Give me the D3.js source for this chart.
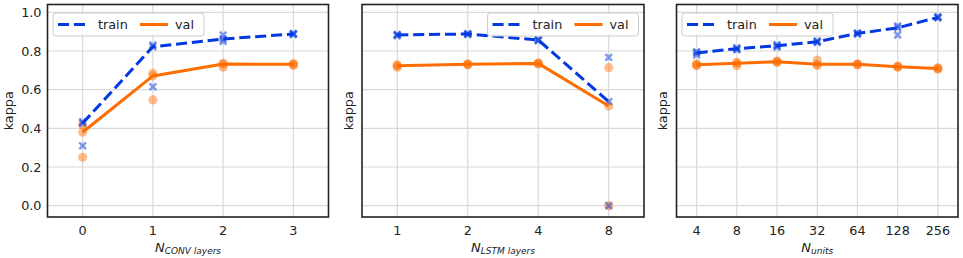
<!DOCTYPE html>
<html><head><meta charset="utf-8">
<script src="https://cdn.jsdelivr.net/npm/d3@7/dist/d3.min.js"></script>
<style>body{margin:0;background:#fff}svg{display:block}text{font-family:"DejaVu Sans",sans-serif;fill:#222}</style>
</head><body>
<script>
// ---------- data ----------
const yTicks = [0.0, 0.2, 0.4, 0.6, 0.8, 1.0];

const convCats = ["0", "1", "2", "3"];
const convTrainRuns = [[0.434, 0.426, 0.31], [0.831, 0.822, 0.615], [0.883, 0.862, 0.85], [0.891, 0.888, 0.885]];
const convTrainLine = [0.426, 0.822, 0.862, 0.888];
const convValRuns = [[0.417, 0.38, 0.25], [0.685, 0.671, 0.547], [0.735, 0.733, 0.716], [0.735, 0.731, 0.725]];
const convValLine = [0.38, 0.671, 0.733, 0.731];

const lstmCats = ["1", "2", "4", "8"];
const lstmTrainRuns = [[0.886, 0.883, 0.879], [0.89, 0.888, 0.885], [0.86, 0.857, 0.853], [0.767, 0.538, 0.0]];
const lstmTrainLine = [0.883, 0.888, 0.857, 0.538];
const lstmValRuns = [[0.728, 0.724, 0.716], [0.734, 0.731, 0.727], [0.738, 0.736, 0.733], [0.714, 0.516, 0.0]];
const lstmValLine = [0.724, 0.731, 0.736, 0.516];

const unitCats = ["4", "8", "16", "32", "64", "128", "256"];
const unitTrainRuns = [[0.796, 0.791, 0.779], [0.817, 0.812, 0.806], [0.832, 0.827, 0.82], [0.852, 0.848, 0.844], [0.894, 0.891, 0.887], [0.93, 0.92, 0.883], [0.978, 0.974, 0.971]];
const unitTrainLine = [0.79, 0.812, 0.827, 0.848, 0.891, 0.92, 0.974];
const unitValRuns = [[0.733, 0.729, 0.724], [0.741, 0.737, 0.724], [0.748, 0.745, 0.741], [0.753, 0.731, 0.725], [0.734, 0.731, 0.728], [0.722, 0.719, 0.716], [0.713, 0.71, 0.706]];
const unitValLine = [0.729, 0.737, 0.745, 0.731, 0.731, 0.719, 0.71];

const panels = [
  {cats: convCats, tr: convTrainRuns, tl: convTrainLine, vr: convValRuns, vl: convValLine, sub: "CONV layers", x0: 47.5, x1: 328.5, yTickLabels: true, legend: "left", kx: 12.5},
  {cats: lstmCats, tr: lstmTrainRuns, tl: lstmTrainLine, vr: lstmValRuns, vl: lstmValLine, sub: "LSTM layers", x0: 362, x1: 644, yTickLabels: false, legend: "right", kx: 352.5},
  {cats: unitCats, tr: unitTrainRuns, tl: unitTrainLine, vr: unitValRuns, vl: unitValLine, sub: "units", x0: 676.5, x1: 958, yTickLabels: false, legend: "left", kx: 667}
];

const BLUE = "#0339e0", ORANGE = "#ff6d00";
const W = 963, H = 258, plotTop = 4.5, plotBottom = 217;
const y = d3.scaleLinear().domain([-0.0585, 1.0405]).range([plotBottom, plotTop]);

const svg = d3.select("body").append("svg").attr("width", W).attr("height", H);

panels.forEach((p, pi) => {
  const n = p.cats.length;
  const x = d3.scaleLinear().domain([-0.5, n - 0.5]).range([p.x0, p.x1]);
  const g = svg.append("g");
  // grid
  g.append("g").selectAll("line").data(yTicks).join("line")
    .attr("x1", p.x0).attr("x2", p.x1).attr("y1", d => y(d)).attr("y2", d => y(d))
    .attr("stroke", "#d9d9d9").attr("stroke-width", 1.2);
  g.append("g").selectAll("line").data(p.cats).join("line")
    .attr("x1", (d, i) => x(i)).attr("x2", (d, i) => x(i)).attr("y1", plotTop).attr("y2", plotBottom)
    .attr("stroke", "#d9d9d9").attr("stroke-width", 1.2);

  // scatter runs
  const clip = "clip" + pi;
  svg.append("clipPath").attr("id", clip).append("rect")
    .attr("x", p.x0).attr("y", plotTop).attr("width", p.x1 - p.x0).attr("height", plotBottom - plotTop);
  const pts = g.append("g").attr("clip-path", `url(#${clip})`);
  p.vr.forEach((runs, i) => runs.forEach(v => {
    pts.append("circle").attr("cx", x(i)).attr("cy", y(v)).attr("r", 4.6)
      .attr("fill", ORANGE).attr("fill-opacity", 0.45);
  }));
  const X = "M-4.2,-2.4 L-2.4,-4.2 L0,-1.8 L2.4,-4.2 L4.2,-2.4 L1.8,0 L4.2,2.4 L2.4,4.2 L0,1.8 L-2.4,4.2 L-4.2,2.4 L-1.8,0 Z";
  p.tr.forEach((runs, i) => runs.forEach(v => {
    pts.append("path").attr("d", X).attr("transform", `translate(${x(i)},${y(v)})`)
      .attr("fill", BLUE).attr("fill-opacity", 0.5);
  }));

  // lines
  const line = d3.line().x((d, i) => x(i)).y(d => y(d));
  pts.append("path").datum(p.vl).attr("d", line).attr("fill", "none")
    .attr("stroke", ORANGE).attr("stroke-width", 3).attr("stroke-linejoin", "round");
  pts.append("path").datum(p.tl).attr("d", line).attr("fill", "none")
    .attr("stroke", BLUE).attr("stroke-width", 3).attr("stroke-dasharray", "11.1,4.8");

  // frame
  g.append("rect").attr("x", p.x0).attr("y", plotTop).attr("width", p.x1 - p.x0).attr("height", plotBottom - plotTop)
    .attr("fill", "none").attr("stroke", "#222").attr("stroke-width", 1.6);

  // x tick labels
  g.append("g").selectAll("text").data(p.cats).join("text")
    .attr("x", (d, i) => x(i)).attr("y", 235).attr("text-anchor", "middle")
    .attr("font-size", "12.8px").text(d => d);
  // y tick labels
  if (p.yTickLabels) {
    g.append("g").selectAll("text").data(yTicks).join("text")
      .attr("x", p.x0 - 6).attr("y", d => y(d) + 4.5).attr("text-anchor", "end")
      .attr("font-size", "12.8px").text(d => d.toFixed(1));
  }
  // y label
  g.append("text").attr("transform", `translate(${p.kx},${(plotTop + plotBottom) / 2}) rotate(-90)`)
    .attr("text-anchor", "middle").attr("font-size", "12.8px").text("kappa");
  // x label
  const xl = g.append("text").attr("x", (p.x0 + p.x1) / 2).attr("y", 252).attr("text-anchor", "middle")
    .attr("font-style", "italic");
  xl.append("tspan").attr("font-size", "13px").text("N");
  xl.append("tspan").attr("font-size", "9px").attr("dy", 2).text(p.sub);

  // legend
  const lw = 151, lh = 23;
  const lx = p.legend === "left" ? p.x0 + 5.5 : p.x1 - 5.5 - lw;
  const ly = 13;
  const lg = g.append("g").attr("transform", `translate(${lx},${ly})`);
  lg.append("rect").attr("width", lw).attr("height", lh).attr("rx", 3)
    .attr("fill", "#fff").attr("fill-opacity", 0.85).attr("stroke", "#cccccc").attr("stroke-width", 1);
  lg.append("line").attr("x1", 5).attr("x2", 32).attr("y1", lh / 2).attr("y2", lh / 2)
    .attr("stroke", BLUE).attr("stroke-width", 3).attr("stroke-dasharray", "11.1,4.8");
  lg.append("text").attr("x", 45).attr("y", lh / 2 + 4.5).attr("font-size", "12.8px").text("train");
  lg.append("line").attr("x1", 87).attr("x2", 115).attr("y1", lh / 2).attr("y2", lh / 2)
    .attr("stroke", ORANGE).attr("stroke-width", 3);
  lg.append("text").attr("x", 122).attr("y", lh / 2 + 4.5).attr("font-size", "12.8px").text("val");
});
</script>
</body></html>
